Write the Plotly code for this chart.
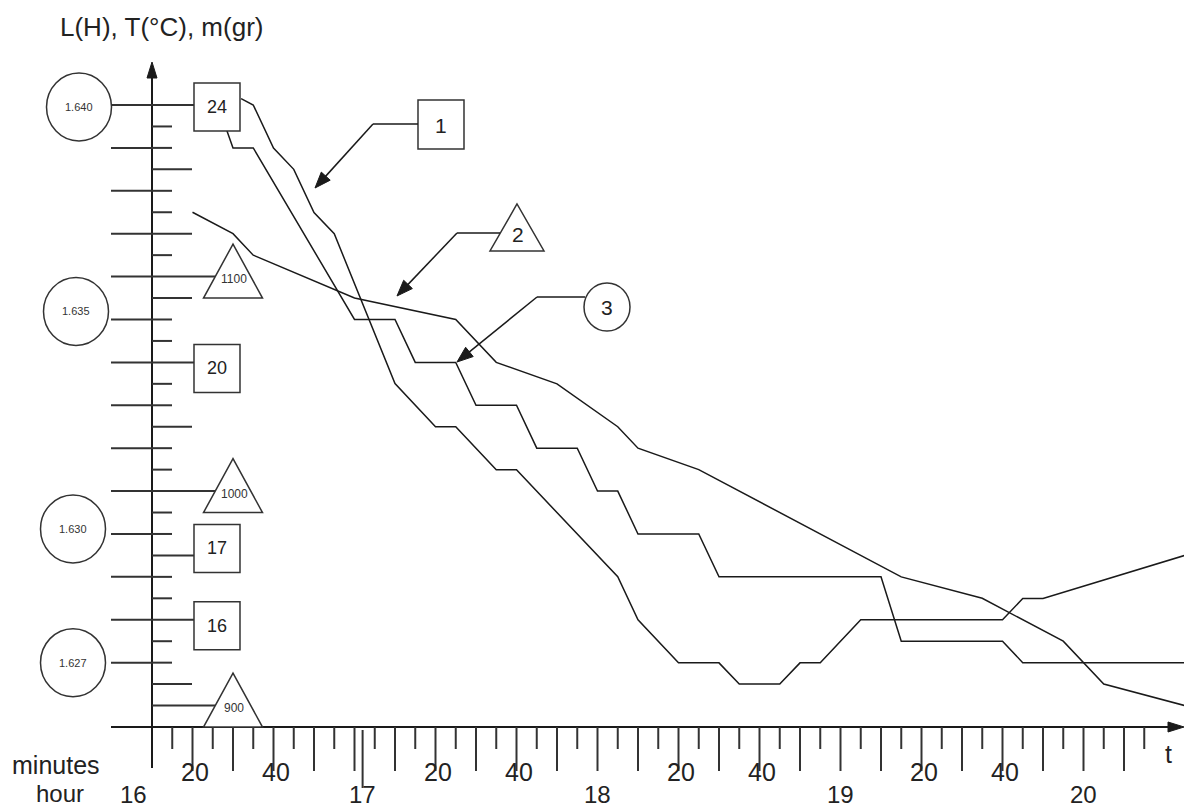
import plotly.graph_objects as go

# ---------------- data (time in minutes after 16:00) ----------------
# Curve 1 : temperature T (°C)
t_T = [32, 35, 40, 45, 50, 55, 70, 80, 85, 95, 100, 125, 130, 140, 150, 155,
       165, 170, 175, 185, 220, 225, 230, 265]
T_vals = [24.1, 24.0, 23.33, 23.0, 22.33, 22.0, 19.67, 19.0, 19.0, 18.33, 18.33,
          16.67, 16.0, 15.33, 15.33, 15.0, 15.0, 15.33, 15.33, 16.0, 16.0, 16.33,
          16.33, 17.0]
# Curve 2 : mass m (gr)
t_m = [20, 30, 35, 60, 85, 95, 110, 125, 130, 145, 195, 215, 235, 245, 265]
m_vals = [1130, 1120, 1110, 1090, 1080, 1060, 1050, 1030, 1020, 1010, 960, 950,
          930, 910, 900]
# Curve 3 : inductance L (H)
t_L = [28.5, 30, 35, 60, 70, 75, 85, 90, 100, 105, 115, 120, 125, 130, 145, 150,
       190, 195, 220, 225, 265]
L_vals = [1.6394, 1.639, 1.639, 1.635, 1.635, 1.634, 1.634, 1.633, 1.633, 1.632,
          1.632, 1.631, 1.631, 1.630, 1.630, 1.629, 1.629, 1.6275, 1.6275, 1.627,
          1.627]

# scale labels
T_labels = [24, 20, 17, 16]
m_labels = [1100, 1000, 900]
L_labels = [1.640, 1.635, 1.630, 1.627]
minute_labels = ["20", "40", "20", "40", "20", "40", "20", "40"]
minute_label_t = [20, 40, 80, 100, 140, 160, 200, 220]
hour_labels = ["16", "17", "18", "19", "20"]
hour_label_t = [5.5, 62, 120, 180, 240]
curve_labels = ["1", "2", "3"]

# ---------------- geometry / scales ----------------
W, H = 1184, 809
X0_PX, T0 = 152, 10          # time axis origin (16:10)
PX_PER_MIN = 20.25 / 5
Y0_PX = 727                  # horizontal axis
PX_PER_TICK = 21.448


def T_of_j(j): return 24 + (j - 29) / 3
def m_of_j(j): return 900 + (j - 1) * 10
def L_of_j(j): return 1.640 + (j - 29) * 0.0005
def j_T(v): return 29 + (v - 24) * 3
def j_m(v): return 1 + (v - 900) / 10
def j_L(v): return 29 + (v - 1.640) / 0.0005


def px_t(t): return X0_PX + (t - T0) * PX_PER_MIN
def py_j(j): return Y0_PX - j * PX_PER_TICK
def fx(px): return px / W
def fy(py): return 1 - py / H


j_lo = -(H - Y0_PX) / PX_PER_TICK
j_hi = Y0_PX / PX_PER_TICK
x_range = [T0 - X0_PX / PX_PER_MIN, T0 + (W - X0_PX) / PX_PER_MIN]

INK = "#1a1a1a"
TICK = "#333333"
FONT = "Liberation Sans, Arial, sans-serif"

fig = go.Figure()
line_style = dict(color=INK, width=1.5)
fig.add_trace(go.Scatter(x=t_T, y=T_vals, mode="lines", line=line_style,
                         xaxis="x", yaxis="y", name="T", hoverinfo="skip"))
fig.add_trace(go.Scatter(x=t_m, y=m_vals, mode="lines", line=line_style,
                         xaxis="x", yaxis="y2", name="m", hoverinfo="skip"))
fig.add_trace(go.Scatter(x=t_L, y=L_vals, mode="lines", line=line_style,
                         xaxis="x", yaxis="y3", name="L", hoverinfo="skip"))

shapes = []
annotations = []


def seg(x0, y0, x1, y1, color=TICK, width=2):
    shapes.append(dict(type="line", xref="paper", yref="paper", layer="above",
                       x0=fx(x0), y0=fy(y0), x1=fx(x1), y1=fy(y1),
                       line=dict(color=color, width=width)))


def poly(pts, fill="rgba(0,0,0,0)", color=TICK, width=1.5):
    d = "M " + " L ".join(f"{fx(a):.5f},{fy(b):.5f}" for a, b in pts) + " Z"
    shapes.append(dict(type="path", xref="paper", yref="paper", layer="above",
                       path=d, fillcolor=fill, line=dict(color=color, width=width)))


def ellipse(cx, cy, rx, ry, color=TICK, width=1.5):
    shapes.append(dict(type="circle", xref="paper", yref="paper", layer="above",
                       x0=fx(cx - rx), x1=fx(cx + rx), y0=fy(cy + ry), y1=fy(cy - ry),
                       fillcolor="white", line=dict(color=color, width=width)))


def text(px, py, s, size, color="#222222", pad=1):
    annotations.append(dict(xref="paper", yref="paper", x=fx(px), y=fy(py), text=s,
                            showarrow=False, xanchor="center", yanchor="middle",
                            borderpad=pad,
                            font=dict(family=FONT, size=size, color=color)))


def arrow(x0, y0, x1, y1, length=16, half=6):
    dx, dy = x1 - x0, y1 - y0
    n = (dx * dx + dy * dy) ** 0.5
    ux, uy = dx / n, dy / n
    bx, by = x1 - ux * length, y1 - uy * length
    seg(x0, y0, bx + ux * 2, by + uy * 2, color=INK, width=1.5)
    poly([(x1, y1), (bx - uy * half, by + ux * half), (bx + uy * half, by - ux * half)],
         fill=INK, color=INK, width=1)


# ---- axes ----
seg(X0_PX, 768, X0_PX, 74, color=INK, width=2)                  # vertical axis
poly([(X0_PX, 62), (X0_PX - 5, 78), (X0_PX + 5, 78)], fill=INK, color=INK, width=1)
seg(111, Y0_PX, 1172, Y0_PX, color=INK, width=2)                 # time axis
poly([(1184, Y0_PX), (1168, Y0_PX - 5), (1168, Y0_PX + 5)], fill=INK, color=INK, width=1)

# ---- time ticks every 5 min ----
t = T0 + 5
while t <= 255:
    x = px_t(t)
    long_tick = (t % 10 == 0)
    seg(x, Y0_PX, x, 771 if long_tick else 749, color=TICK, width=2)
    t += 5
seg(px_t(62), 730, px_t(62), 788, color=TICK, width=2)            # 17 h marker

# ---- vertical ticks ----
T_box_left = 194
tri_w, tri_h, tri_dy = 59, 54, 21.5
tri_cx = 233

right_end = {}
for mv in range(900, 1190, 10):                 # m scale, every 10 gr
    right_end[round(j_m(mv))] = 172
for Tv in range(15, 25):                         # T scale, every 1 °C
    right_end[round(j_T(Tv))] = 192
for Tv in T_labels:
    right_end[round(j_T(Tv))] = T_box_left
for mv in m_labels:
    jj = round(j_m(mv))
    base = py_j(jj) + tri_dy
    y = py_j(jj)
    right_end[jj] = tri_cx - tri_w / 2 + (tri_w / 2) * (base - y) / tri_h
for jj, xe in right_end.items():
    if 1 <= jj <= 29:
        seg(X0_PX, py_j(jj), xe, py_j(jj))

Lv = 1.627
while Lv <= 1.6405:                              # L scale, every 0.001 H
    jj = round(j_L(Lv))
    seg(111, py_j(jj), X0_PX, py_j(jj))
    Lv += 0.001

# ---- scale markers ----
L_cx = [79, 76, 73, 73]
L_dy = [2, -8, -5, 0]
for v, cx, dy in zip(L_labels, L_cx, L_dy):
    cy = py_j(j_L(v)) + dy
    ellipse(cx, cy, 32.5, 34)
    text(cx, cy, f"{v:.3f}", 11, color="#333333")

T_dy = [2, 6, -7, 6]
for v, dy in zip(T_labels, T_dy):
    cy = py_j(j_T(v)) + dy
    poly([(194, cy - 24), (240, cy - 24), (240, cy + 24), (194, cy + 24)],
         fill="white")
    text(217, cy, str(v), 18)

for v in m_labels:
    base = py_j(j_m(v)) + tri_dy
    poly([(tri_cx, base - tri_h), (tri_cx - tri_w / 2, base), (tri_cx + tri_w / 2, base)],
         fill="white")
    text(tri_cx + 1, base - 19, str(v), 12, color="#333333")

# ---- curve labels with leaders ----
# 1 : square
poly([(418, 100), (464, 100), (464, 149), (418, 149)], fill="white")
text(441, 125, curve_labels[0], 21)
seg(418, 124, 373, 124, color=INK, width=1.5)
arrow(373, 124, 315, 188)
# 2 : triangle
poly([(517, 204), (490, 251), (544, 251)], fill="white")
text(518, 234, curve_labels[1], 21)
seg(500, 233, 457, 233, color=INK, width=1.5)
arrow(457, 233, 397, 296)
# 3 : circle
ellipse(607, 307, 23, 24)
text(607, 308, curve_labels[2], 21)
seg(585, 297, 537, 297, color=INK, width=1.5)
arrow(537, 297, 457, 362)

# ---- texts ----
text(161, 27, "L(H), T(°C), m(gr)", 26)
text(56, 765, "minutes", 25, pad=0)
text(60, 793, "hour", 24, pad=0)
for s, tt in zip(minute_labels, minute_label_t):
    text(px_t(tt) + 2, 772, s, 25, pad=0)
for s, tt in zip(hour_labels, hour_label_t):
    text(px_t(tt), 794, s, 24, pad=0)
text(1168, 754, "t", 25, pad=0)

fig.update_layout(
    width=W, height=H, margin=dict(l=0, r=0, t=0, b=0),
    paper_bgcolor="white", plot_bgcolor="white", showlegend=False,
    xaxis=dict(range=x_range, visible=False, fixedrange=True, domain=[0, 1]),
    yaxis=dict(range=[T_of_j(j_lo), T_of_j(j_hi)], visible=False, fixedrange=True,
               domain=[0, 1]),
    yaxis2=dict(range=[m_of_j(j_lo), m_of_j(j_hi)], visible=False, overlaying="y",
                fixedrange=True),
    yaxis3=dict(range=[L_of_j(j_lo), L_of_j(j_hi)], visible=False, overlaying="y",
                fixedrange=True),
    shapes=shapes, annotations=annotations,
)

fig.write_html("out.html", config={"displayModeBar": False},
               post_script="document.body.style.margin='0';")
